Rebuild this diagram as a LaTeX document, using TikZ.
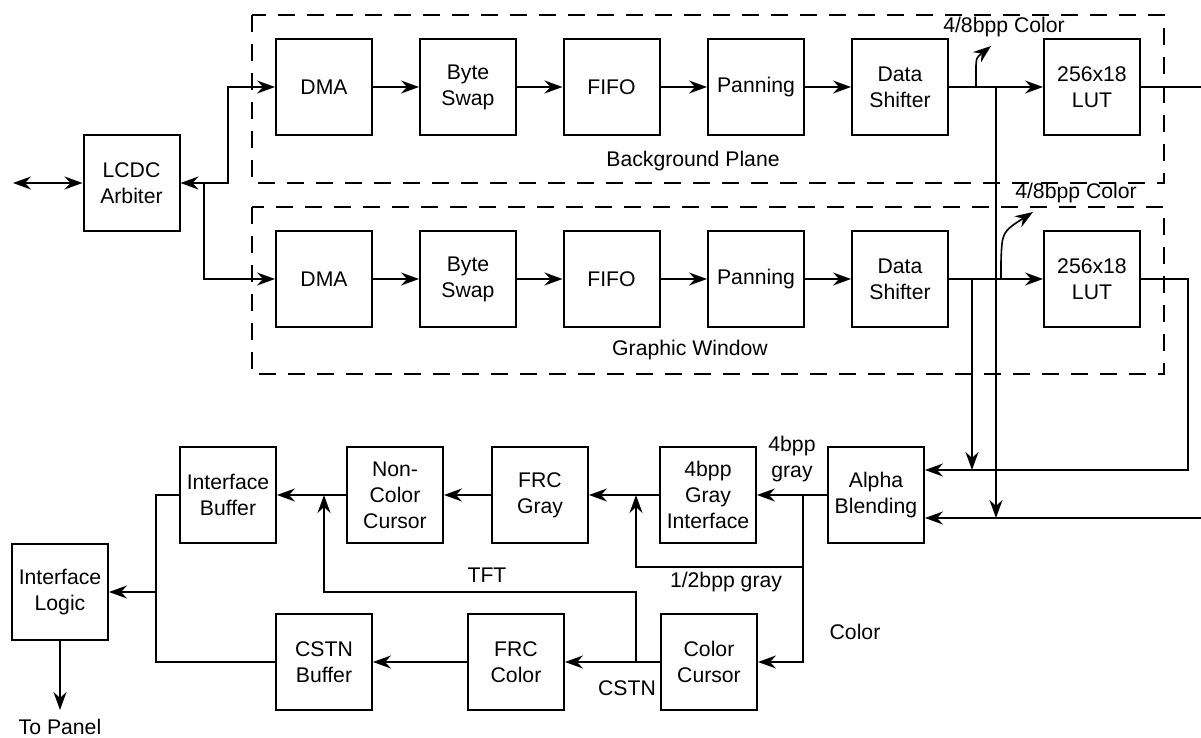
\documentclass[tikz,border=0pt]{standalone}
\usepackage{fontspec}
\setmainfont{Liberation Sans}
\usepackage{tikz}
\usetikzlibrary{arrows.meta, calc}

\begin{document}
\begin{tikzpicture}[x=0.5pt, y=-0.5pt, line width=1pt,
    >={Stealth[length=9pt, width=6.5pt, inset=3pt]},
    blk/.style={draw, minimum width=48pt, minimum height=48pt, inner sep=1pt,
        align=center, font=\fontsize{10.6}{13}\selectfont},
    lbl/.style={align=center, inner sep=0pt, font=\fontsize{10.6}{13}\selectfont},
    plane/.style={dash pattern=on 8.5pt off 6pt}]
    \useasboundingbox (0,0) rectangle (1201,738);
    % Planes
    \draw[plane] (252,15) rectangle (1164,183);
    \draw[plane] (252,207) rectangle (1164,374);
    \node[lbl] (bgp) at (693,161) {Background Plane};
    \node[lbl] (gwin) at (690,350) {Graphic Window};
    % Arbiter
    \node[blk] (arb) at (131.5,183) {LCDC\\Arbiter};
    \coordinate (ext) at (13,183);
    \draw[<->] (ext) -- (arb);
    % Two pipelines
    \foreach \r/\y in {1/87, 2/279} {
        \node[blk] (dma\r) at (324,\y) {DMA};
        \node[blk] (swap\r) at (468,\y) {Byte\\Swap};
        \node[blk] (fifo\r) at (611.5,\y) {FIFO};
        \node[blk] (pan\r) at (756,\y) {Panning};
        \node[blk] (shift\r) at (900,\y) {Data\\Shifter};
        \node[blk] (lut\r) at (1092,\y) {256x18\\LUT};
        \draw[->] (dma\r) -- (swap\r);
        \draw[->] (swap\r) -- (fifo\r);
        \draw[->] (fifo\r) -- (pan\r);
        \draw[->] (pan\r) -- (shift\r);
        \draw[->] (shift\r) -- (lut\r);
    }
    \coordinate (b1) at (228,183);
    \coordinate (b2) at (204,183);
    \draw[<->] (arb) -- (b1) |- (dma1);
    \draw[->] (b2) |- (dma2);
    % Color taps
    \coordinate (c1) at (976,87);
    \coordinate (c1e) at (991,46);
    \draw[->, line width=0.8pt] (c1) -- (976,70) .. controls (976,58) .. (c1e);
    \node[lbl] (col1) at (1004,27) {4/8bpp Color};
    \coordinate (c2) at (1001,279);
    \coordinate (c2e) at (1033,212);
    \draw[->, line width=0.8pt] (c2) -- (1001,262) .. controls (1002,232) .. (c2e);
    \node[lbl] (col2) at (1076,193) {4/8bpp Color};
    % Alpha blending
    \node[blk] (alpha) at (876,495) {Alpha\\Blending};
    \coordinate (r2) at (1188,470);
    \coordinate (in2) at (1201,518);
    \coordinate (o1) at (1201,87);
    \draw (lut1.east) -- (o1);
    \draw[->] (lut2.east) -| (r2) -- (alpha.east |- r2);
    \draw[->] (in2) -- (alpha.east |- in2);
    \coordinate (t1) at (996,87);
    \coordinate (t2) at (972,279);
    \draw[->] (t1) -- (t1 |- in2);
    \draw[->] (t2) -- (t2 |- r2);
    % Gray path
    \node[blk] (gray4) at (708,495) {4bpp\\Gray\\Interface};
    \node[blk] (frcg) at (540,495) {FRC\\Gray};
    \node[blk] (ncc) at (395,495) {Non-\\Color\\Cursor};
    \node[blk] (ibuf) at (228,495) {Interface\\Buffer};
    \node[lbl] (g4) at (792,459) {4bpp\\gray};
    \draw[->] (alpha) -- (gray4);
    \draw[->] (gray4) -- (frcg);
    \draw[->] (frcg) -- (ncc);
    \draw[->] (ncc) -- (ibuf);
    \coordinate (j3) at (803,495);
    \coordinate (j4) at (803,567);
    \coordinate (m1) at (636,495);
    \draw[->] (j4) -| (m1);
    \node[lbl] (g12) at (726,582) {1/2bpp gray};
    % Color path
    \node[blk] (ccur) at (709,662) {Color\\Cursor};
    \node[blk] (frcc) at (516,662) {FRC\\Color};
    \node[blk] (cbuf) at (324,662) {CSTN\\Buffer};
    \draw[->] (j3) |- (ccur);
    \node[lbl] (colr) at (855,632) {Color};
    \draw[->] (ccur) -- (frcc);
    \draw[->] (frcc) -- (cbuf);
    \node[lbl] (cstn) at (627,688) {CSTN};
    \coordinate (j5) at (636,662);
    \coordinate (m2) at (324,495);
    \draw[->] (j5) -- ++(0,-70) -| (m2);
    \node[lbl] (tft) at (487,575) {TFT};
    % Output
    \node[blk] (ilog) at (60,592) {Interface\\Logic};
    \coordinate (bus) at (156,592);
    \draw (cbuf) -| (bus) |- (ibuf);
    \draw[->] (bus) -- (ilog);
    \coordinate (panel) at (60,710);
    \draw[->] (ilog) -- (panel);
    \node[lbl] (topanel) at (60,727) {To Panel};
\end{tikzpicture}
\end{document}
